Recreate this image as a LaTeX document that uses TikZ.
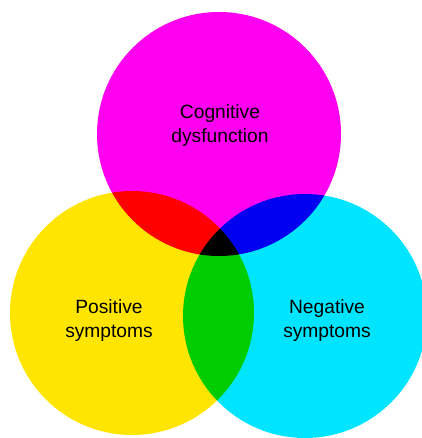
\documentclass[tikz,border=0pt]{standalone}
\usepackage{fontspec}
\newfontfamily\labelfont{Liberation Sans}
\definecolor{cogmagenta}{RGB}{255,0,240}
\definecolor{posyellow}{RGB}{255,229,0}
\definecolor{negcyan}{RGB}{0,229,255}
\tikzset{
  setcircle/.style={circle, inner sep=0pt, outer sep=0pt, minimum size=244pt, draw=none},
  setlabel/.style={align=center, font=\labelfont\fontsize{19.2}{24}\selectfont}
}
\begin{document}
\begin{tikzpicture}[x=1pt,y=-1pt]
	\useasboundingbox (0,0) rectangle (421,438);
	\begin{scope}[blend group=multiply]
		\node[setcircle, fill=cogmagenta] (cog) at (219,134) {};
		\node[setcircle, fill=posyellow] (pos) at (132,313) {};
		\node[setcircle, fill=negcyan] (neg) at (305,316) {};
	\end{scope}
	\node[setlabel] (coglabel) at (220,126) {Cognitive\\dysfunction};
	\node[setlabel] (poslabel) at (109,321) {Positive\\symptoms};
	\node[setlabel] (neglabel) at (327,321) {Negative\\symptoms};
\end{tikzpicture}
\end{document}
